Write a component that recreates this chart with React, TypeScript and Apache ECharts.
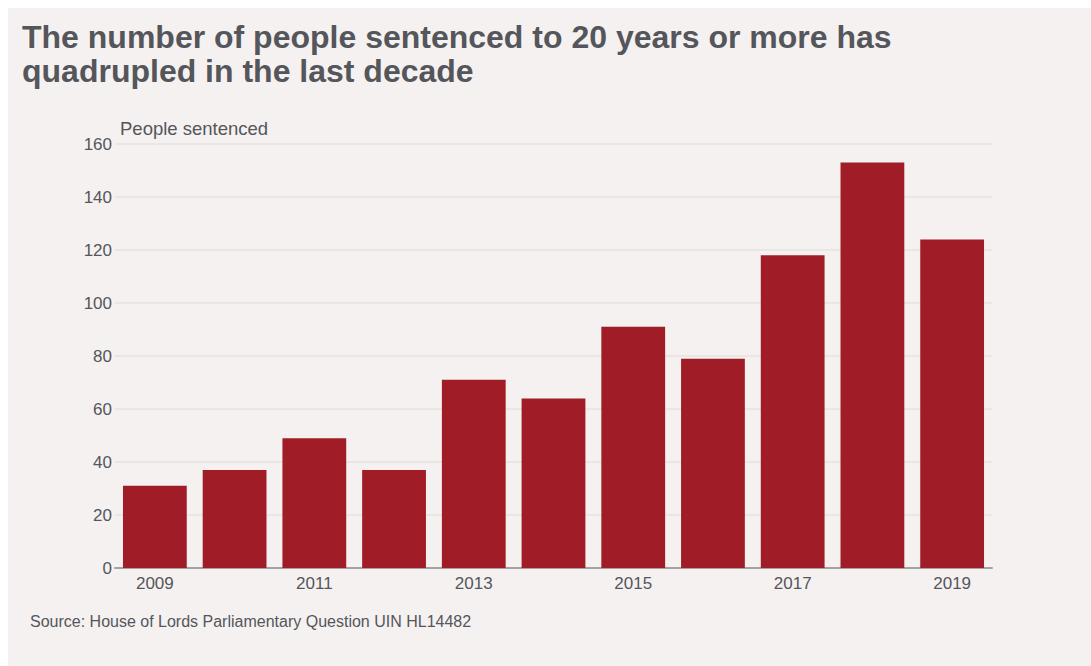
import React, { useEffect, useRef } from "react";
import * as echarts from "echarts";

const years = ["2009", "2010", "2011", "2012", "2013", "2014", "2015", "2016", "2017", "2018", "2019"];
const sentenced = [31, 37, 49, 37, 71, 64, 91, 79, 118, 153, 124];
const yTicks = { min: 0, max: 160, interval: 20 };
const titleText = "The number of people sentenced to 20 years or more has\nquadrupled in the last decade";
const yAxisName = "People sentenced";
const sourceText = "Source: House of Lords Parliamentary Question UIN HL14482";

const FONT = "'Liberation Sans', Arial, Helvetica, sans-serif";
const TEXT = "#54565b";

export default function App() {
  const ref = useRef<HTMLDivElement>(null);
  useEffect(() => {
    if (!ref.current) return;
    const chart = echarts.init(ref.current, undefined, { renderer: "svg" });
    chart.setOption({
      animation: false,
      backgroundColor: "#f5f1f0",
      title: {
        text: titleText,
        left: 14,
        top: 12,
        padding: 0,
        textStyle: {
          fontFamily: FONT,
          fontSize: 32,
          fontWeight: "bold",
          lineHeight: 34,
          color: TEXT,
        },
      },
      grid: { left: 107, right: 99, top: 136, bottom: 98, containLabel: false },
      xAxis: {
        type: "category",
        data: years,
        axisLine: { show: true, lineStyle: { color: "#a3a3a3", width: 2 } },
        axisTick: { show: false },
        axisLabel: {
          interval: 1,
          fontFamily: FONT,
          fontSize: 17,
          color: TEXT,
          margin: 7,
        },
      },
      yAxis: {
        type: "value",
        min: yTicks.min,
        max: yTicks.max,
        interval: yTicks.interval,
        axisLine: { show: false },
        axisTick: { show: false },
        splitLine: { lineStyle: { color: "#e6e2e1", width: 1.5 } },
        axisLabel: {
          fontFamily: FONT,
          fontSize: 17,
          color: TEXT,
          margin: 3,
        },
      },
      graphic: [
        {
          type: "text",
          left: 112,
          top: 111,
          style: { text: yAxisName, font: `18.5px ${FONT}`, fill: TEXT },
        },
        {
          type: "text",
          left: 22,
          top: 605,
          style: { text: sourceText, font: `16px ${FONT}`, fill: TEXT },
        },
      ],
      series: [
        {
          type: "bar",
          data: sentenced,
          barCategoryGap: "20%",
          itemStyle: { color: "#a01c27" },
        },
      ],
    });
    return () => chart.dispose();
  }, []);
  return (
    <div
      ref={ref}
      style={{ position: "fixed", left: 8, top: 8, width: 1083, height: 658 }}
    />
  );
}
